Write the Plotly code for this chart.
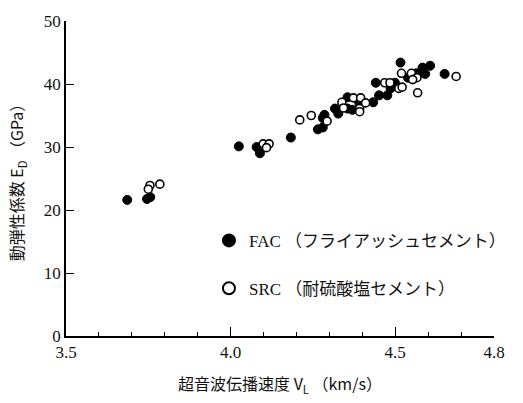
import plotly.graph_objects as go

# FAC (fly ash cement) - filled markers
fac_vl = [3.686, 3.746, 3.756, 4.025, 4.079, 4.089, 4.183, 4.265, 4.280, 4.280,
          4.285, 4.317, 4.327, 4.355, 4.355, 4.370, 4.391, 4.433, 4.451, 4.476,
          4.441, 4.486, 4.499, 4.516, 4.539, 4.564, 4.591, 4.583, 4.606, 4.650]
fac_ed = [21.6, 21.75, 22.05, 30.1, 30.0, 29.0, 31.5, 32.8, 33.1, 34.6,
          35.1, 36.1, 35.3, 37.9, 36.1, 35.9, 37.0, 37.1, 38.2, 38.2,
          40.2, 39.3, 40.2, 43.4, 41.0, 41.7, 41.6, 42.6, 42.9, 41.6]

# SRC (sulfate resisting cement) - open markers
src_vl = [3.755, 3.785, 3.750, 4.099, 4.117, 4.109, 4.210, 4.245, 4.293, 4.338,
          4.343, 4.373, 4.395, 4.392, 4.392, 4.410, 4.468, 4.484, 4.511, 4.521,
          4.519, 4.549, 4.566, 4.553, 4.568, 4.685]
src_ed = [23.9, 24.1, 23.3, 30.5, 30.5, 29.9, 34.3, 35.0, 34.1, 37.1,
          36.2, 37.8, 37.8, 36.1, 35.6, 37.0, 40.2, 40.2, 39.3, 39.5,
          41.7, 41.7, 41.0, 40.7, 38.6, 41.2]

x_tickvals = [3.5, 4.0, 4.5, 4.8]
x_ticktext = ["3.5", "4.0", "4.5", "4.8"]
y_tickvals = [0, 10, 20, 30, 40, 50]

SERIF = "Liberation Serif, Noto Sans CJK JP"
CJK = "Noto Sans CJK JP, Liberation Serif"

fig = go.Figure()
fig.add_trace(go.Scatter(
    x=fac_vl, y=fac_ed, mode="markers", name="FAC （フライアッシュセメント）",
    marker=dict(symbol="circle", size=9, color="black", line=dict(color="black", width=1)),
    legend="legend",
))
fig.add_trace(go.Scatter(
    x=src_vl, y=src_ed, mode="markers", name="SRC （耐硫酸塩セメント）",
    marker=dict(symbol="circle", size=8, color="white", line=dict(color="black", width=1.6)),
    legend="legend2",
))

fig.update_layout(
    width=523, height=403,
    margin=dict(l=66, r=26, t=14, b=61),
    paper_bgcolor="white", plot_bgcolor="white",
    font=dict(family=SERIF, color="#111", size=16),
    showlegend=True,
    legend=dict(x=0.334, y=0.302, xanchor="left", yanchor="middle", itemsizing="constant",
                bgcolor="rgba(0,0,0,0)", font=dict(family=SERIF, size=17, color="#111")),
    legend2=dict(x=0.334, y=0.15, xanchor="left", yanchor="middle", itemsizing="constant",
                 bgcolor="rgba(0,0,0,0)", font=dict(family=SERIF, size=17, color="#111")),
    xaxis=dict(
        range=[3.5, 4.8], showgrid=False, zeroline=False,
        showline=True, linecolor="black", linewidth=1.5,
        tickvals=x_tickvals, ticktext=x_ticktext,
        ticks="inside", ticklen=9, tickwidth=1, tickcolor="black",
        minor=dict(ticks="inside", ticklen=4, dtick=0.1, tick0=3.5, tickcolor="black", tickwidth=1),
        tickfont=dict(family=SERIF, size=17, color="#111"),
        title=dict(text="超音波伝播速度 V<sub>L</sub> （km/s）",
                   font=dict(family=CJK, size=16, color="#111"), standoff=18),
    ),
    yaxis=dict(
        range=[0, 50], showgrid=False, zeroline=False,
        showline=True, linecolor="black", linewidth=1.5,
        tickvals=y_tickvals,
        ticks="inside", ticklen=8, tickwidth=1, tickcolor="black",
        tickfont=dict(family=SERIF, size=17, color="#111"),
        title=dict(text="動弾性係数 E<sub>D</sub> （GPa）",
                   font=dict(family=CJK, size=16, color="#111"), standoff=16),
    ),
)

fig.write_html("out.html")
